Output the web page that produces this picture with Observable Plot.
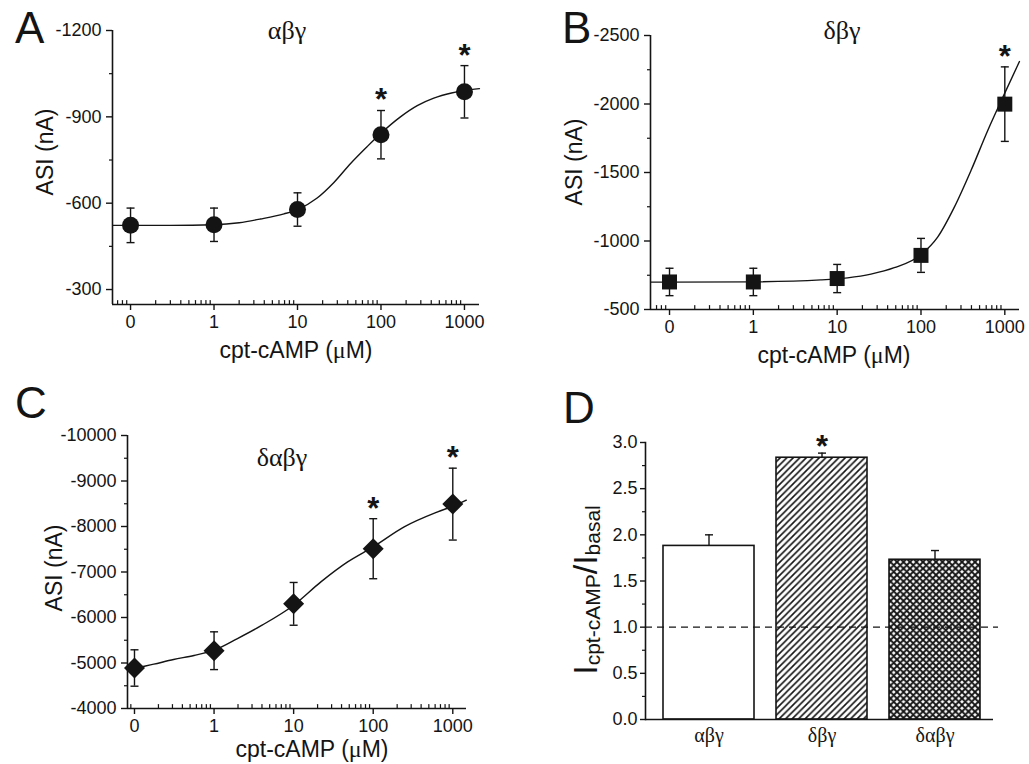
<!DOCTYPE html>
<html>
<head>
<meta charset="utf-8">
<script src="https://cdn.jsdelivr.net/npm/d3@7"></script>
<script src="https://cdn.jsdelivr.net/npm/@observablehq/plot@0.6"></script>
<style>
html,body{margin:0;padding:0;background:#fff;}
#fig{position:relative;width:1029px;height:764px;overflow:hidden;font-family:"Liberation Sans",Arial,sans-serif;color:#141414;}
.panel{position:absolute;}
.panel svg{display:block;overflow:visible;}
.lbl{position:absolute;white-space:nowrap;line-height:1;}
.letter{font-size:44px;}
.greek{font-family:"Liberation Serif","Times New Roman",serif;font-size:26px;transform:translateX(-50%);}
.ylab{font-size:23px;transform:translate(-50%,-50%) rotate(-90deg);}
.xlab{font-size:23px;transform:translate(-50%,-50%);}
.mu{font-family:"Liberation Serif","Times New Roman",serif;font-size:24px;}
.dlab{font-size:34px;}
.dlab .sub{font-size:21px;position:relative;top:3px;}
</style>
</head>
<body>
<div id="fig"></div>
<script>
// ---------------- data ----------------
// concentration (µM); the "0" control is drawn one decade below 1
const conc = [0.1, 1, 10, 100, 1000];
const concLabels = ["0", "1", "10", "100", "1000"];
const minorConc = [0.07, 0.08, 0.09, 0.2, 0.3, 0.4, 0.5, 0.6, 0.7, 0.8, 0.9,
  2, 3, 4, 5, 6, 7, 8, 9, 20, 30, 40, 50, 60, 70, 80, 90,
  200, 300, 400, 500, 600, 700, 800, 900];

// Panel A: αβγ
const asiA = [-523, -525, -578, -838, -987];
const errA = [60, 58, 58, 84, 91];
const sigA = [false, false, false, true, true];
const fitAx = [0.061, 0.1, 0.3, 1, 2, 3.6, 6.9, 10, 17.2, 27.3, 43, 68, 100, 171, 272, 429, 700, 1000, 1510];
const fitAy = [-523, -523, -523, -525, -532, -545, -563, -578, -618, -672, -737, -796, -843, -900, -939, -965, -983, -992, -998];
const ticksA = [-1200, -900, -600, -300];
const minorA = [-1050, -750, -450];

// Panel B: δβγ
const asiB = [-701, -701, -726, -895, -1999];
const errB = [100, 100, 103, 124, 272];
const sigB = [false, false, false, false, true];
const fitBx = [0.06, 0.1, 1, 6.4, 13.3, 25.3, 48, 100, 158, 250, 395, 624, 986, 1495];
const fitBy = [-700, -700, -702, -716, -731, -758, -805, -900, -1028, -1247, -1514, -1805, -2072, -2310];
const ticksB = [-2500, -2000, -1500, -1000, -500];
const minorB = [-2250, -1750, -1250, -750];

// Panel C: δαβγ
const asiC = [-4890, -5270, -6300, -7512, -8492];
const errC = [400, 415, 470, 660, 790];
const sigC = [false, false, false, true, true];
const fitCx = [0.082, 0.1, 0.175, 0.31, 0.56, 1, 1.97, 3.86, 10, 22, 47.7, 100, 245, 646, 1000, 1480];
const fitCy = [-4842, -4879, -4974, -5077, -5165, -5281, -5538, -5815, -6270, -6783, -7222, -7552, -7991, -8321, -8446, -8578];
const ticksC = [-10000, -9000, -8000, -7000, -6000, -5000, -4000];
const minorC = [-9500, -8500, -7500, -6500, -5500, -4500];

// Panel D: I(cpt-cAMP)/I(basal)
const groups = ["αβγ", "δβγ", "δαβγ"];
const ratio = [1.88, 2.835, 1.73];
const ratioErr = [0.12, 0.05, 0.10];
const sigD = [false, true, false];
const ticksD = [0, 0.5, 1, 1.5, 2, 2.5, 3];
const minorD = [0.25, 0.75, 1.25, 1.75, 2.25, 2.75];
const refLine = [1];

// ---------------- drawing ----------------
const ink = "#141414";
const sans = "'Liberation Sans', Arial, sans-serif";
const serif = "'Liberation Serif', 'Times New Roman', serif";
const fig = document.getElementById("fig");

const capSymbol = {draw(ctx) { ctx.moveTo(-4, 0); ctx.lineTo(4, 0); }};
const squareSymbol = {draw(ctx) { ctx.rect(-7.5, -7.5, 15, 15); }};
const diamondSymbol = {draw(ctx) { ctx.moveTo(0, -10.5); ctx.lineTo(10.5, 0); ctx.lineTo(0, 10.5); ctx.lineTo(-10.5, 0); ctx.closePath(); }};
const tickShape = {draw(ctx, l) { ctx.moveTo(0, 0); ctx.lineTo(0, -l); }};

function place(el, left, top) {
  const wrap = document.createElement("div");
  wrap.className = "panel";
  wrap.style.left = left + "px";
  wrap.style.top = top + "px";
  wrap.appendChild(el);
  fig.appendChild(wrap);
}
function label(html, cls, left, top) {
  const d = document.createElement("div");
  d.className = "lbl " + cls;
  d.innerHTML = html;
  d.style.left = left + "px";
  d.style.top = top + "px";
  fig.appendChild(d);
}

function curvePanel(c) {
  const pts = c.y.map((v, i) => ({x: conc[i], y: v, e: c.err[i], sig: c.sig[i]}));
  const fit = c.fitX.map((x, i) => ({x, y: c.fitY[i]}));
  const minor = minorConc.filter(d => d >= c.xDomain[0] && d <= c.xDomain[1]);
  return Plot.plot({
    width: c.width, height: c.height,
    marginLeft: c.m[0], marginRight: c.m[1], marginTop: c.m[2], marginBottom: c.m[3],
    x: {type: "log", domain: c.xDomain},
    y: {domain: c.yDomain},
    style: {fontFamily: sans, fontSize: "18px", color: ink, background: "transparent", overflow: "visible"},
    marks: [
      Plot.ruleX([c.xDomain[0]], {stroke: ink, strokeWidth: 1.6}),
      Plot.ruleY([c.yDomain[0]], {stroke: ink, strokeWidth: 1.6}),
      Plot.axisY(c.ticks, {tickSize: 6, tickPadding: 5, tickFormat: d => String(d), label: null, fontSize: 18, stroke: ink, fill: ink, strokeWidth: 1.4}),
      Plot.axisY(c.minor, {tickSize: 3, fill: "none", label: null, stroke: ink, strokeWidth: 1.2}),
      Plot.axisX(conc, {tickSize: 6, tickPadding: 5, tickFormat: d => concLabels[conc.indexOf(d)], label: null, fontSize: 18, stroke: ink, fill: ink, strokeWidth: 1.4}),
      Plot.vector(minor, {x: d => d, y: () => c.yDomain[0], length: 4, rotate: 0, anchor: "start", shape: tickShape, stroke: ink, strokeWidth: 1.2}),
      Plot.line(fit, {x: "x", y: "y", curve: "monotone-x", stroke: ink, strokeWidth: 1.4}),
      Plot.ruleX(pts, {x: "x", y1: d => d.y - d.e, y2: d => d.y + d.e, stroke: ink, strokeWidth: 1.4}),
      Plot.dot(pts, {x: "x", y: d => d.y - d.e, symbol: capSymbol, fill: "none", stroke: ink, strokeWidth: 1.4}),
      Plot.dot(pts, {x: "x", y: d => d.y + d.e, symbol: capSymbol, fill: "none", stroke: ink, strokeWidth: 1.4}),
      Plot.dot(pts, {x: "x", y: "y", symbol: c.symbol, r: c.r, fill: ink, stroke: "none"}),
      Plot.text(pts.filter(d => d.sig), {x: "x", y: d => d.y - d.e, text: () => "*", fontSize: 31, fontWeight: "bold", fontFamily: sans, dy: -10, fill: ink})
    ]
  });
}

// Panel A
place(curvePanel({
  y: asiA, err: errA, sig: sigA, fitX: fitAx, fitY: fitAy,
  xDomain: [0.0608, 1514], yDomain: [-248, -1200], ticks: ticksA, minor: minorA,
  width: 515, height: 370, m: [112, 36, 30, 66], symbol: "circle", r: 8.5
}), 0, 0);

// Panel B
place(curvePanel({
  y: asiB, err: errB, sig: sigB, fitX: fitBx, fitY: fitBy,
  xDomain: [0.0593, 1497], yDomain: [-500, -2500], ticks: ticksB, minor: minorB,
  width: 509, height: 370, m: [130, 10, 35, 61], symbol: squareSymbol, r: 8
}), 520, 0);

// Panel C
place(curvePanel({
  y: asiC, err: errC, sig: sigC, fitX: fitCx, fitY: fitCy,
  xDomain: [0.0817, 1487], yDomain: [-4000, -10000], ticks: ticksC, minor: minorC,
  width: 515, height: 384, m: [127, 49, 55, 56], symbol: diamondSymbol, r: 10
}), 0, 380);

// Panel D
(function () {
  const fills = {"αβγ": "#ffffff", "δβγ": "url(#hatchD)", "δαβγ": "url(#crossD)"};
  const rows = groups.map((g, i) => ({g, v: ratio[i], e: ratioErr[i], sig: sigD[i]}));
  const svg = Plot.plot({
    width: 509, height: 384,
    marginLeft: 125, marginRight: 36, marginTop: 62, marginBottom: 45,
    x: {domain: groups, paddingInner: 0.197, paddingOuter: 0.134, align: 0.57},
    y: {domain: [0, 3]},
    color: {type: "identity"},
    style: {fontFamily: sans, fontSize: "18px", color: ink, background: "transparent", overflow: "visible"},
    marks: [
      Plot.barY(rows, {x: "g", y: "v", fill: d => fills[d.g], stroke: ink, strokeWidth: 1.6}),
      Plot.ruleY(refLine, {stroke: ink, strokeWidth: 1.3, strokeDasharray: "7,5", insetRight: -5}),
      Plot.ruleX(rows, {x: "g", y1: "v", y2: d => d.v + d.e, stroke: ink, strokeWidth: 1.4}),
      Plot.dot(rows, {x: "g", y: d => d.v + d.e, symbol: capSymbol, fill: "none", stroke: ink, strokeWidth: 1.4}),
      Plot.text(rows.filter(d => d.sig), {x: "g", y: d => d.v + d.e, text: () => "*", fontSize: 31, fontWeight: "bold", fontFamily: sans, dy: -6, fill: ink}),
      Plot.frame({anchor: "left", stroke: ink, strokeWidth: 1.6}),
      Plot.ruleY([0], {stroke: ink, strokeWidth: 1.6}),
      Plot.axisY(ticksD, {tickSize: 5, tickPadding: 3, tickFormat: d3.format(".1f"), label: null, fontSize: 18, stroke: ink, fill: ink, strokeWidth: 1.4}),
      Plot.axisY(minorD, {tickSize: 3, fill: "none", label: null, stroke: ink, strokeWidth: 1.2}),
      Plot.axisX({tickSize: 0, tickPadding: 8, label: null, fontFamily: serif, fontSize: 20, fill: ink})
    ]
  });
  const defs = d3.select(svg).insert("defs", ":first-child");
  const h = defs.append("pattern").attr("id", "hatchD").attr("patternUnits", "userSpaceOnUse").attr("width", 6.5).attr("height", 6.5);
  h.append("rect").attr("width", 6.5).attr("height", 6.5).attr("fill", "#fff");
  h.append("path").attr("d", "M-1,1 L1,-1 M0,6.5 L6.5,0 M5.5,7.5 L7.5,5.5").attr("stroke", ink).attr("stroke-width", 1.6);
  const x = defs.append("pattern").attr("id", "crossD").attr("patternUnits", "userSpaceOnUse").attr("width", 6.5).attr("height", 6.5);
  x.append("rect").attr("width", 6.5).attr("height", 6.5).attr("fill", "#fff");
  x.append("path").attr("d", "M-1,1 L1,-1 M0,6.5 L6.5,0 M5.5,7.5 L7.5,5.5 M-1,5.5 L1,7.5 M0,0 L6.5,6.5 M5.5,-1 L7.5,1").attr("stroke", ink).attr("stroke-width", 1.9);
  place(svg, 520, 380);
})();

// ---------------- text labels ----------------
label("A", "letter", 15, 6);
label("B", "letter", 562, 6);
label("C", "letter", 15, 381);
label("D", "letter", 563, 386);

label("αβγ", "greek", 287, 18);
label("δβγ", "greek", 842, 18);
label("δαβγ", "greek", 282, 445);

label("ASI (nA)", "ylab", 45, 152);
label("ASI (nA)", "ylab", 574, 162);
label("ASI (nA)", "ylab", 54, 568);
label('cpt-cAMP (<span class="mu">μ</span>M)', "xlab", 296, 350);
label('cpt-cAMP (<span class="mu">μ</span>M)', "xlab", 834, 355);
label('cpt-cAMP (<span class="mu">μ</span>M)', "xlab", 312, 749);
label('I<span class="sub">cpt-cAMP</span>/I<span class="sub">basal</span>', "ylab dlab", 585, 590);
</script>
</body>
</html>
